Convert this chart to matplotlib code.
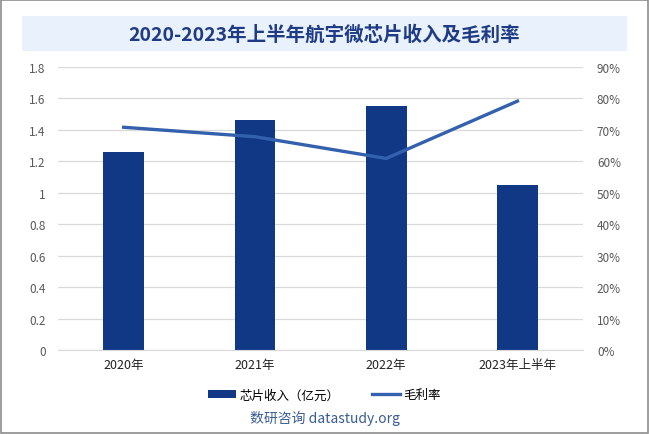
import matplotlib
matplotlib.use("Agg")
import matplotlib.pyplot as plt
from matplotlib.patches import Rectangle
from matplotlib.ticker import FuncFormatter

plt.rcParams['font.family'] = ['Noto Sans CJK SC', 'DejaVu Sans']

# 数据
anos = ["2020年", "2021年", "2022年", "2023年上半年"]
receita = [1.26, 1.46, 1.55, 1.05]      # 芯片收入（亿元）
margem = [70.8, 67.8, 60.9, 79.1]       # 毛利率 %

fig = plt.figure(figsize=(6.49, 4.35), dpi=100)

# moldura externa
fig.patches.append(Rectangle((0.002, 0.002), 0.996, 0.996, transform=fig.transFigure,
                             fill=False, edgecolor='#8c8c8c', linewidth=1.2))
# caixa do título
fig.patches.append(Rectangle((0.034, 0.880), 0.932, 0.081, transform=fig.transFigure,
                             facecolor='#e9f1fc', edgecolor='none'))
fig.text(0.5, 0.920, "2020-2023年上半年航宇微芯片收入及毛利率", ha='center', va='center',
         fontsize=14, fontweight='bold', color='#1f3b86')

ax = fig.add_axes([0.0894, 0.193, 0.809, 0.651])
x = range(len(anos))
barras = ax.bar(x, receita, width=0.31, color='#103885', label='芯片收入（亿元）', zorder=2)
ax.set_ylim(0, 1.8)
ax.set_yticks([i * 0.2 for i in range(10)])
ax.yaxis.set_major_formatter(FuncFormatter(lambda v, p: "0" if v == 0 else ("1" if abs(v - 1) < 1e-9 else f"{v:.1f}")))
ax.set_xlim(-0.5, 3.5)
ax.set_xticks(list(x))
ax.set_xticklabels(anos, fontsize=9, color='#222222')
ax.grid(axis='y', color='#d9d9d9', linewidth=0.9, zorder=0)
ax.set_axisbelow(True)
for s in ['top', 'right', 'left']:
    ax.spines[s].set_visible(False)
ax.spines['bottom'].set_color('#d9d9d9')
ax.tick_params(axis='y', length=0, labelsize=8.5, labelcolor='#595959', pad=9)
ax.tick_params(axis='x', length=0, pad=6)

ax2 = ax.twinx()
linha, = ax2.plot(list(x), margem, color='#3461ad', linewidth=2.4, label='毛利率', zorder=3)
ax2.set_ylim(0, 90)
ax2.set_yticks(range(0, 91, 10))
ax2.yaxis.set_major_formatter(FuncFormatter(lambda v, p: f"{int(v)}%"))
for s in ['top', 'right', 'left', 'bottom']:
    ax2.spines[s].set_visible(False)
ax2.tick_params(axis='y', length=0, labelsize=8.5, labelcolor='#595959', pad=10)

fig.legend(handles=[barras, linha], loc='center', bbox_to_anchor=(0.5, 0.090), ncol=2,
           frameon=False, fontsize=9, handlelength=2.2, columnspacing=2.6, handletextpad=0.3)

fig.text(0.5, 0.038, "数研咨询 datastudy.org", ha='center', va='center',
         fontsize=10, color='#3a5d92')

fig.savefig("out.png", dpi=100)
